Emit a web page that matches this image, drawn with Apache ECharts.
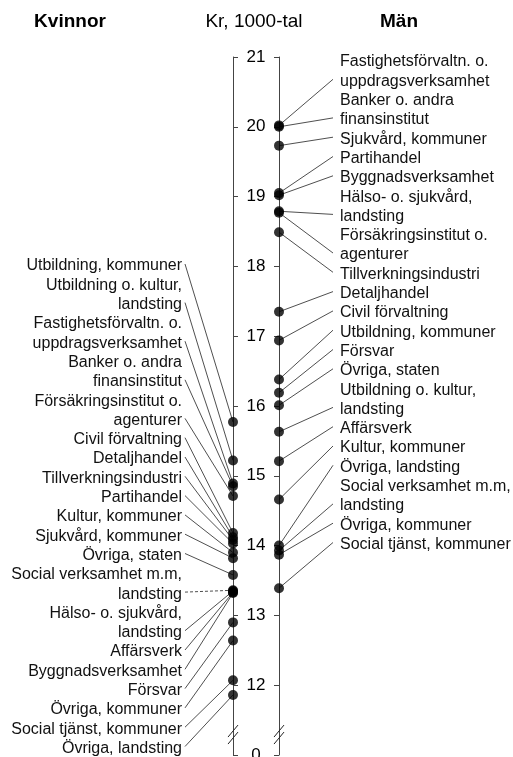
<!DOCTYPE html>
<html lang="sv">
<head>
<meta charset="UTF-8">
<title>Kvinnor och män, Kr 1000-tal</title>
<script src="https://cdn.jsdelivr.net/npm/echarts@6/dist/echarts.min.js"></script>
<style>
  html, body { margin: 0; padding: 0; background: #fff; }
  #chart { width: 513px; height: 757px; }
</style>
</head>
<body>
<div id="chart"></div>
<script>
// Kvinnor, uppifrån och ned
var womenNames = [
  'Utbildning, kommuner',
  'Utbildning o. kultur,\nlandsting',
  'Fastighetsförvaltn. o.\nuppdragsverksamhet',
  'Banker o. andra\nfinansinstitut',
  'Försäkringsinstitut o.\nagenturer',
  'Civil förvaltning',
  'Detaljhandel',
  'Tillverkningsindustri',
  'Partihandel',
  'Kultur, kommuner',
  'Sjukvård, kommuner',
  'Övriga, staten',
  'Social verksamhet m.m,\nlandsting',
  'Hälso- o. sjukvård,\nlandsting',
  'Affärsverk',
  'Byggnadsverksamhet',
  'Försvar',
  'Övriga, kommuner',
  'Social tjänst, kommuner',
  'Övriga, landsting'
];
var womenValues = [15.77, 15.22, 14.89, 14.85, 14.71, 14.18, 14.12, 14.08, 14.03, 13.9,
  13.82, 13.58, 13.36, 13.35, 13.33, 13.32, 12.9, 12.64, 12.07, 11.86];

// Män, uppifrån och ned
var menNames = [
  'Fastighetsförvaltn. o.\nuppdragsverksamhet',
  'Banker o. andra\nfinansinstitut',
  'Sjukvård, kommuner',
  'Partihandel',
  'Byggnadsverksamhet',
  'Hälso- o. sjukvård,\nlandsting',
  'Försäkringsinstitut o.\nagenturer',
  'Tillverkningsindustri',
  'Detaljhandel',
  'Civil förvaltning',
  'Utbildning, kommuner',
  'Försvar',
  'Övriga, staten',
  'Utbildning o. kultur,\nlandsting',
  'Affärsverk',
  'Kultur, kommuner',
  'Övriga, landsting',
  'Social verksamhet m.m,\nlandsting',
  'Övriga, kommuner',
  'Social tjänst, kommuner'
];
var menValues = [20.02, 20.0, 19.73, 19.05, 19.02, 18.79, 18.77, 18.49, 17.35, 16.94,
  16.38, 16.19, 16.01, 15.63, 15.21, 14.66, 14.0, 13.93, 13.87, 13.39];

// axeln är bruten: nedersta steget visas som 0
var axisMin = 11, axisMax = 21;
var breakLabel = '0';
var dashedWomen = ['Social verksamhet m.m,\nlandsting'];

var FONT_FAMILY = '"Liberation Sans", Arial, Helvetica, sans-serif';
var ROW = 19.3;

function rowStarts(names) {
  var r = [], n = 0;
  names.forEach(function (s) {
    r.push(n);
    n += s.split('\n').length;
  });
  return r;
}

// etiketter med ledlinjer till punkterna
function labelSeries(names, values, side) {
  var rows = rowStarts(names);
  var top = side === 0 ? 265 : 61;
  var textX = side === 0 ? 182 : 340;
  var lineX = side === 0 ? 185 : 333;
  var align = side === 0 ? 'right' : 'left';
  return {
    type: 'custom',
    silent: true,
    z: 1,
    data: values.map(function (v) { return [side, v]; }),
    renderItem: function (params, api) {
      var i = params.dataIndex;
      var dot = api.coord([api.value(0), api.value(1)]);
      var nLines = names[i].split('\n').length;
      var y0 = top + rows[i] * ROW;
      var yLast = y0 + (nLines - 1) * ROW;
      var dashed = side === 0 && dashedWomen.indexOf(names[i]) >= 0;
      return {
        type: 'group',
        children: [{
          type: 'line',
          shape: { x1: lineX, y1: yLast - 1, x2: dot[0], y2: dot[1] },
          style: { stroke: '#222', lineWidth: 0.8, lineDash: dashed ? [3, 2] : null }
        }, {
          type: 'text',
          x: textX,
          y: y0 - ROW / 2 + 1,
          style: {
            text: names[i],
            font: '16px ' + FONT_FAMILY,
            fill: '#111',
            align: align,
            textAlign: align,
            verticalAlign: 'top',
            textVerticalAlign: 'top',
            lineHeight: ROW
          }
        }]
      };
    }
  };
}

function dotSeries(values, side) {
  return {
    type: 'scatter',
    symbol: 'circle',
    symbolSize: 10,
    clip: false,
    z: 3,
    itemStyle: { color: '#000' },
    data: values.map(function (v) { return [side, v]; })
  };
}

var chart = echarts.init(document.getElementById('chart'));
chart.setOption({
  animation: false,
  backgroundColor: '#fff',
  textStyle: { fontFamily: FONT_FAMILY },
  graphic: [
    { type: 'text', x: 70, y: 22, style: { text: 'Kvinnor', font: 'bold 19px ' + FONT_FAMILY, fill: '#000', align: 'center', verticalAlign: 'middle' } },
    { type: 'text', x: 254, y: 22, style: { text: 'Kr, 1000-tal', font: '19px ' + FONT_FAMILY, fill: '#000', align: 'center', verticalAlign: 'middle' } },
    { type: 'text', x: 399, y: 22, style: { text: 'Män', font: 'bold 19px ' + FONT_FAMILY, fill: '#000', align: 'center', verticalAlign: 'middle' } }
  ],
  grid: { left: 233, top: 57, width: 46, height: 698, containLabel: false, outerBoundsMode: 'none' },
  xAxis: { type: 'value', min: 0, max: 1, show: false },
  yAxis: [{
    type: 'value',
    position: 'left',
    min: axisMin,
    max: axisMax,
    interval: 1,
    axisLine: { show: true, lineStyle: { color: '#444', width: 1 } },
    axisTick: { show: true, inside: true, length: 5, lineStyle: { color: '#444' } },
    axisLabel: {
      inside: true,
      align: 'center',
      margin: 23,
      color: '#000',
      fontSize: 17,
      fontFamily: FONT_FAMILY,
      formatter: function (v) { return v === axisMin ? breakLabel : String(v); }
    },
    splitLine: { show: false }
  }, {
    type: 'value',
    position: 'right',
    min: axisMin,
    max: axisMax,
    interval: 1,
    axisLine: { show: true, lineStyle: { color: '#444', width: 1 } },
    axisTick: { show: true, inside: true, length: 5, lineStyle: { color: '#444' } },
    axisLabel: { show: false },
    splitLine: { show: false }
  }],
  series: [
    labelSeries(womenNames, womenValues, 0),
    labelSeries(menNames, menValues, 1),
    dotSeries(womenValues, 0),
    dotSeries(menValues, 1),
    {
      // brytmarkering på axlarna
      type: 'custom',
      silent: true,
      z: 2,
      data: [[0, 11.3], [1, 11.3]],
      renderItem: function (params, api) {
        var p = api.coord([api.value(0), api.value(1)]);
        var st = { stroke: '#222', lineWidth: 1 };
        return {
          type: 'group',
          children: [
            { type: 'line', shape: { x1: p[0] - 5, y1: p[1] + 3, x2: p[0] + 5, y2: p[1] - 9 }, style: st },
            { type: 'line', shape: { x1: p[0] - 5, y1: p[1] + 10, x2: p[0] + 5, y2: p[1] - 2 }, style: st }
          ]
        };
      }
    }
  ]
});
</script>
</body>
</html>
